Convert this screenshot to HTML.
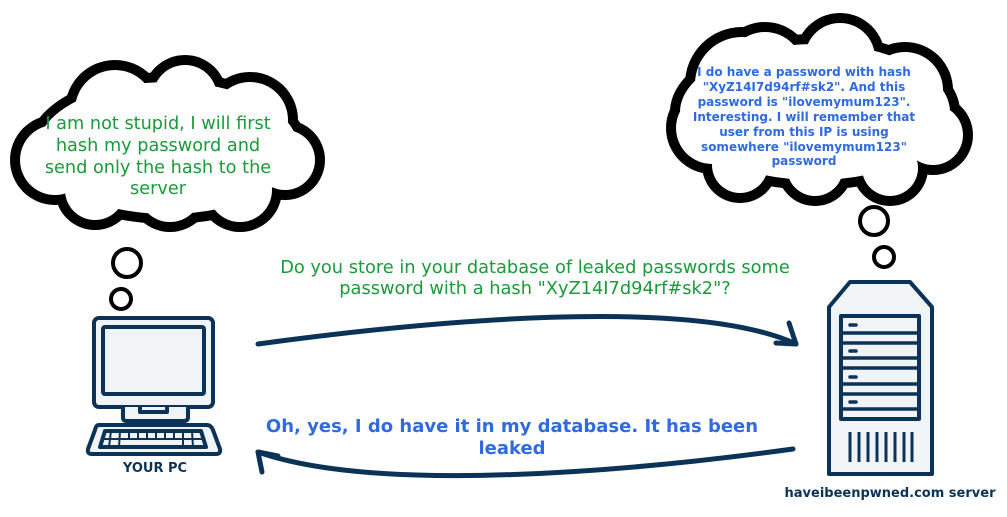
<!DOCTYPE html>
<html><head><meta charset="utf-8"><style>
html,body{margin:0;padding:0;background:#fff;}
svg{display:block;}
</style></head><body>
<svg width="1007" height="517" viewBox="0 0 1007 517" xmlns="http://www.w3.org/2000/svg">
<!-- left cloud -->
<g fill="#000">
<circle cx="55" cy="160" r="45"/><circle cx="115" cy="110" r="50"/><circle cx="185" cy="97" r="42"/>
<circle cx="250" cy="120" r="48"/><circle cx="285" cy="160" r="40"/><circle cx="240" cy="190" r="42"/>
<circle cx="170" cy="190" r="42"/><circle cx="95" cy="190" r="40"/>
<ellipse cx="168" cy="148" rx="140" ry="76"/>
</g>
<g fill="#fff">
<circle cx="55" cy="160" r="35"/><circle cx="115" cy="110" r="40"/><circle cx="185" cy="97" r="32"/>
<circle cx="250" cy="120" r="38"/><circle cx="285" cy="160" r="30"/><circle cx="240" cy="190" r="32"/>
<circle cx="170" cy="190" r="32"/><circle cx="95" cy="190" r="30"/>
<ellipse cx="168" cy="148" rx="130" ry="66"/>
</g>
<circle cx="127" cy="263" r="14" fill="none" stroke="#000" stroke-width="4"/>
<circle cx="121" cy="299" r="10" fill="none" stroke="#000" stroke-width="4"/>
<g fill="#1a9a3a" font-family="DejaVu Sans, sans-serif" font-size="17.7" text-anchor="middle">
<text x="158" y="129">I am not stupid, I will first</text>
<text x="158" y="151">hash my password and</text>
<text x="158" y="173">send only the hash to the</text>
<text x="158" y="194">server</text>
</g>
<!-- right cloud -->
<g fill="#000">
<circle cx="712" cy="128" r="46"/><circle cx="765" cy="70" r="48"/><circle cx="840" cy="58" r="45"/>
<circle cx="905" cy="90" r="48"/><circle cx="933" cy="135" r="40"/><circle cx="890" cy="168" r="38"/>
<circle cx="815" cy="168" r="38"/><circle cx="740" cy="165" r="38"/>
<circle cx="742" cy="84" r="57"/>
<ellipse cx="815" cy="112" rx="145" ry="78"/>
</g>
<g fill="#fff">
<circle cx="712" cy="128" r="36"/><circle cx="765" cy="70" r="38"/><circle cx="840" cy="58" r="35"/>
<circle cx="905" cy="90" r="38"/><circle cx="933" cy="135" r="30"/><circle cx="890" cy="168" r="28"/>
<circle cx="815" cy="168" r="28"/><circle cx="740" cy="165" r="28"/>
<circle cx="742" cy="84" r="47"/>
<ellipse cx="815" cy="112" rx="135" ry="68"/>
</g>
<circle cx="874" cy="221" r="14" fill="none" stroke="#000" stroke-width="4"/>
<circle cx="884" cy="257" r="10" fill="none" stroke="#000" stroke-width="4"/>
<g fill="#2e6be0" font-family="DejaVu Sans, sans-serif" font-size="12" font-weight="bold" text-anchor="middle">
<text x="804" y="76">I do have a password with hash</text>
<text x="804" y="91">"XyZ14I7d94rf#sk2". And this</text>
<text x="804" y="106">password is "ilovemymum123".</text>
<text x="804" y="121">Interesting. I will remember that</text>
<text x="804" y="136">user from this IP is using</text>
<text x="804" y="151">somewhere "ilovemymum123"</text>
<text x="804" y="165">password</text>
</g>
<!-- middle texts -->
<g fill="#1a9a3a" font-family="DejaVu Sans, sans-serif" font-size="17.8" text-anchor="middle">
<text x="535" y="273">Do you store in your database of leaked passwords some</text>
<text x="535" y="294">password with a hash "XyZ14I7d94rf#sk2"?</text>
</g>
<g fill="#2e6be0" font-family="DejaVu Sans, sans-serif" font-size="18" font-weight="bold" text-anchor="middle">
<text x="512" y="432">Oh, yes, I do have it in my database. It has been</text>
<text x="512" y="454">leaked</text>
</g>
<!-- arrows -->
<g fill="none" stroke="#0b3358" stroke-width="5" stroke-linecap="round" stroke-linejoin="round">
<path d="M258,344 C420,322 690,295 796,344"/>
<path d="M789,323 L796,344 L776,343"/>
<path d="M793,449 C640,470 380,495 258,452"/>
<path d="M262,472 L258,452 L278,456"/>
</g>
<!-- PC -->
<g stroke="#0b3358" stroke-width="4" fill="#f1f4f7" stroke-linejoin="round">
<rect x="94" y="318" width="119" height="89" rx="5"/>
<rect x="103" y="327" width="101" height="67" rx="2"/>
<path d="M123,407 L123,418 Q123,421 127,421 L184,421 Q188,421 188,417 L188,407"/>
<path d="M140,407 L140,412 L167,412 L167,407"/>
<path d="M99,425 L207,425 Q211,425 213,430 L220,449 Q221,454 216,454 L92,454 Q87,454 88,449 L95,430 Q96,425 99,425 Z"/>
<path d="M105,431 L201,431 L206,447 L100,447 Z"/>
</g>
<g stroke="#0b3358" stroke-width="2">
<line x1="103" y1="439" x2="204" y2="439"/>
<line x1="111" y1="431" x2="109" y2="447"/><line x1="120" y1="431" x2="119" y2="447"/>
<line x1="129" y1="431" x2="129" y2="439"/><line x1="138" y1="431" x2="138" y2="439"/>
<line x1="147" y1="431" x2="147" y2="439"/><line x1="156" y1="431" x2="156" y2="439"/>
<line x1="165" y1="431" x2="165" y2="439"/><line x1="174" y1="431" x2="174" y2="439"/>
<line x1="183" y1="431" x2="183" y2="447"/><line x1="192" y1="431" x2="193" y2="447"/>
</g>
<text x="155" y="472" fill="#0b3358" font-family="DejaVu Sans, sans-serif" font-size="13" font-weight="bold" text-anchor="middle">YOUR PC</text>
<!-- server -->
<g stroke="#0b3358" stroke-width="4" fill="#f1f4f7" stroke-linejoin="round">
<path d="M850,282 L910,282 L932,307 L932,474 L829,474 L829,307 Z"/>
<rect x="841" y="316" width="78" height="103"/>
</g>
<g stroke="#0b3358" stroke-width="3.5" stroke-linecap="round">
<line x1="841" y1="333" x2="919" y2="333"/><line x1="841" y1="343" x2="919" y2="343"/>
<line x1="841" y1="358" x2="919" y2="358"/><line x1="841" y1="368" x2="919" y2="368"/>
<line x1="841" y1="384" x2="919" y2="384"/><line x1="841" y1="394" x2="919" y2="394"/>
<line x1="841" y1="409" x2="919" y2="409"/>
<line x1="850" y1="325" x2="856" y2="325"/><line x1="850" y1="351" x2="856" y2="351"/>
<line x1="850" y1="377" x2="856" y2="377"/><line x1="850" y1="402" x2="856" y2="402"/>
</g>
<g stroke="#0b3358" stroke-width="3">
<line x1="850" y1="432" x2="850" y2="462"/><line x1="859" y1="432" x2="859" y2="462"/>
<line x1="868" y1="432" x2="868" y2="462"/><line x1="877" y1="432" x2="877" y2="462"/>
<line x1="886" y1="432" x2="886" y2="462"/><line x1="895" y1="432" x2="895" y2="462"/>
<line x1="904" y1="432" x2="904" y2="462"/><line x1="912" y1="432" x2="912" y2="462"/>
</g>
<text x="890" y="497" fill="#0b3358" font-family="DejaVu Sans, sans-serif" font-size="13" font-weight="bold" text-anchor="middle">haveibeenpwned.com server</text>
</svg>
</body></html>
